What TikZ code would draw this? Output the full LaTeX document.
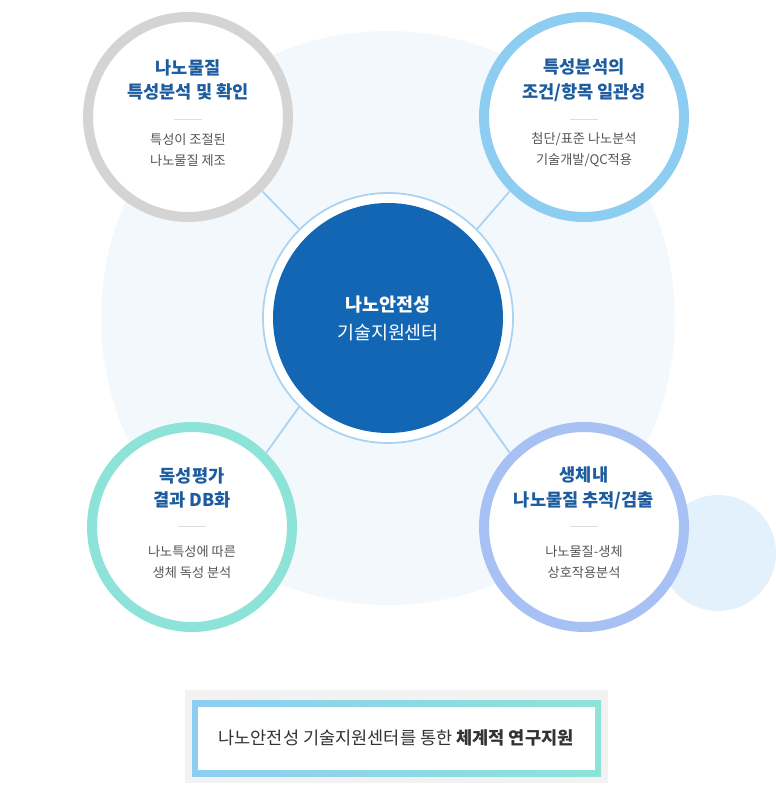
\documentclass[tikz,border=0pt]{standalone}
\usepackage{fontspec}
\newfontfamily\kr{Noto Sans CJK KR}
\usetikzlibrary{positioning}
\definecolor{bgpale}{HTML}{F3F8FD}
\definecolor{bgsmall}{HTML}{E3F1FC}
\definecolor{coreblue}{HTML}{1366B3}
\definecolor{titleblue}{HTML}{1D5C9F}
\definecolor{descgray}{HTML}{555555}
\definecolor{ringgray}{HTML}{D4D4D4}
\definecolor{ringsky}{HTML}{8ECDF2}
\definecolor{ringteal}{HTML}{8DE3D8}
\definecolor{ringperi}{HTML}{A7C1F5}
\definecolor{linkblue}{HTML}{A9D3F2}

\begin{document}
\begin{tikzpicture}[x=0.02cm,y=-0.02cm,font=\kr]
        \tikzstyle{ring} = [circle, line width=10*0.02cm, fill=white, minimum size=200*0.02cm]
        \tikzstyle{title} = [text=titleblue, font=\kr\bfseries\fontsize{10}{14}\selectfont, align=center]
        \tikzstyle{desc} = [text=descgray, font=\kr\fontsize{7.5}{12}\selectfont, align=center]
        \tikzstyle{link} = [linkblue, line width=1pt]

        \useasboundingbox (0,0) rectangle (775,786);
        \fill[bgpale] (388,318) circle (287*0.02cm);
        \fill[bgsmall] (718,553) circle (58*0.02cm);

        % center
        \node (coreRing) [circle, draw=linkblue, line width=1pt, fill=white, minimum size=250*0.02cm] at (388,318) {};
        \node (core) [circle, fill=coreblue, minimum size=230*0.02cm, text=white, align=center, font=\kr\fontsize{10.5}{16}\selectfont] at (388,318) {\textbf{나노안전성}\\기술지원센터};

        % four circles
        \node (tl) [ring, draw=ringgray] at (188,117) {};
        \node (tr) [ring, draw=ringsky] at (584,117) {};
        \node (bl) [ring, draw=ringteal] at (192,527) {};
        \node (br) [ring, draw=ringperi] at (584,527) {};

        \draw [link] (tl.-45) -- (coreRing.135);
        \draw [link] (tr.-135) -- (coreRing.45);
        \draw [link] (bl.45) -- (coreRing.-135);
        \draw [link] (br.135) -- (coreRing.-45);

        \node (tlT) [title] at (188,80) {나노물질\\특성분석 및 확인};
        \node (tlD) [desc] at (188,150) {특성이 조절된\\나노물질 제조};
        \node (trT) [title] at (584,80) {특성분석의\\조건/항목 일관성};
        \node (trD) [desc] at (584,150) {첨단/표준 나노분석\\기술개발/QC적용};
        \node (blT) [title] at (192,488) {독성평가\\결과 DB화};
        \node (blD) [desc] at (192,562) {나노특성에 따른\\생체 독성 분석};
        \node (brT) [title] at (584,488) {생체내\\나노물질 추적/검출};
        \node (brD) [desc] at (584,562) {나노물질-생체\\상호작용분석};
        \foreach \x/\y in {188/119,584/119,192/526,584/526}
            \draw [ringgray!80] (\x-14,\y) -- (\x+14,\y);

        % bottom box
        \fill[gray!10] (185,690) rectangle (608,783);
        \fill[white] (192,700) rectangle (601,776);
        \shade[left color=ringsky, right color=ringteal] (192,700) rectangle (601,706);
        \shade[left color=ringsky, right color=ringteal] (192,770) rectangle (601,776);
        \fill[ringsky] (192,700) rectangle (198,776);
        \fill[ringteal] (595,700) rectangle (601,776);
        \node (motto) [text=black!80, font=\kr\fontsize{10}{12}\selectfont] at (396,738) {나노안전성 기술지원센터를 통한 \textbf{체계적 연구지원}};
\end{tikzpicture}
\end{document}
